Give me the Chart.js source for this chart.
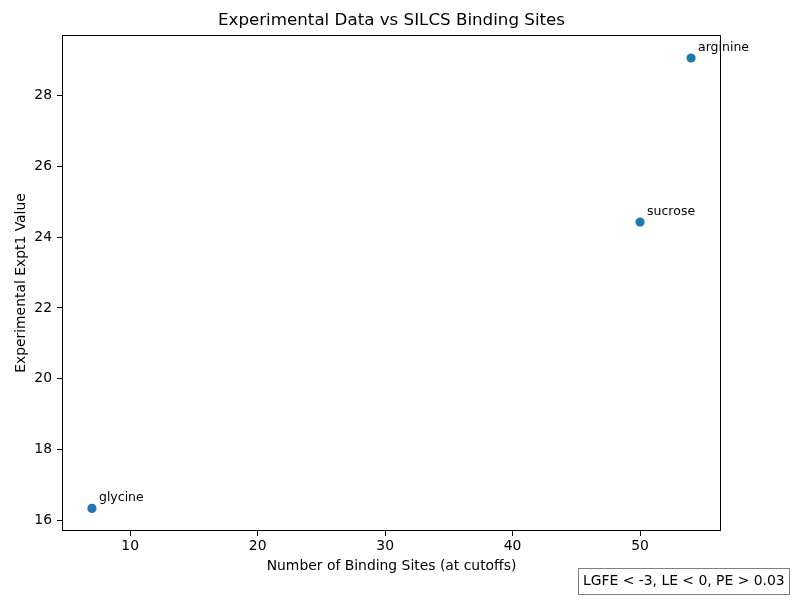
<!DOCTYPE html>
<html>
<head>
<meta charset="utf-8">
<script src="https://cdn.jsdelivr.net/npm/chart.js@4"></script>
<style>
    body { margin: 0; background: #fff; }
    #wrap { width: 800px; height: 600px; }
</style>
</head>
<body>
<div id="wrap"><canvas id="silcsStats" width="800" height="600"></canvas></div>
<script>
//
// Data
var compounds = ['glycine', 'sucrose', 'arginine'];
var binding_sites = [7, 50, 54];
var expt_values = [16.33, 24.43, 29.07];
var x_ticks = [10, 20, 30, 40, 50];
var y_ticks = [16, 18, 20, 22, 24, 26, 28];
var cutoff_note = 'LGFE < -3, LE < 0, PE > 0.03';

var FONT = 'DejaVu Sans';

//
// Frame box + point labels + cutoff note
var extras = {
    id: 'extras',
    afterDraw: function(chart) {
        var ctx = chart.ctx;
        var area = chart.chartArea;
        var x = chart.scales.x, y = chart.scales.y;
        ctx.save();

        // full box like matplotlib spines
        ctx.strokeStyle = '#000';
        ctx.lineWidth = 1;
        ctx.strokeRect(Math.round(area.left) + 0.5, Math.round(area.top) + 0.5,
            Math.round(area.right - area.left) - 1, Math.round(area.bottom - area.top) - 1);

        // labels
        ctx.fillStyle = '#000';
        ctx.font = '12.5px "' + FONT + '"';
        ctx.textAlign = 'left';
        ctx.textBaseline = 'alphabetic';
        compounds.forEach(function(name, i) {
            var px = x.getPixelForValue(binding_sites[i]);
            var py = y.getPixelForValue(expt_values[i]);
            ctx.fillText(name, px + 7, py - 7);
        });

        // note box
        ctx.font = '13.9px "' + FONT + '"';
        ctx.fillStyle = '#fff';
        ctx.fillRect(578, 568, 211, 26);
        ctx.strokeStyle = '#808080';
        ctx.strokeRect(578.5, 568.5, 211, 26);
        ctx.fillStyle = '#000';
        ctx.textBaseline = 'middle';
        ctx.fillText(cutoff_note, 583, 581.5);
        ctx.restore();
    }
};

function fixedTicks(list) {
    return function(scale) {
        scale.ticks = list.map(function(v) { return {value: v}; });
    };
}

var ctx = document.getElementById('silcsStats').getContext('2d');
new Chart(ctx, {
    type: 'scatter',
    data: {
        labels: compounds,
        datasets: [{
            data: binding_sites.map(function(v, i) { return {x: v, y: expt_values[i]}; }),
            backgroundColor: '#1f77b4',
            borderColor: '#1f77b4',
            borderWidth: 0,
            pointRadius: 4.6,
            pointHoverRadius: 4.6
        }]
    },
    options: {
        responsive: false,
        animation: false,
        devicePixelRatio: 1,
        layout: {
            padding: { left: 0, right: 79, top: 0, bottom: 19 }
        },
        plugins: {
            legend: { display: false },
            tooltip: { enabled: false },
            title: {
                display: true,
                fullSize: false,
                text: 'Experimental Data vs SILCS Binding Sites',
                color: '#000',
                font: { family: FONT, size: 16.7, weight: 'normal' },
                padding: { top: 11, bottom: 4 }
            }
        },
        scales: {
            x: {
                type: 'linear',
                min: 4.65,
                max: 56.35,
                afterFit: function(scale) { scale.height = 50; },
                afterBuildTicks: fixedTicks(x_ticks),
                ticks: {
                    color: '#000',
                    padding: 2,
                    maxRotation: 0,
                    font: { family: FONT, size: 13.9 }
                },
                grid: { display: true, drawOnChartArea: false, drawTicks: true, tickLength: 5, color: '#000' },
                border: { display: false },
                title: {
                    display: true,
                    text: 'Number of Binding Sites (at cutoffs)',
                    color: '#000',
                    font: { family: FONT, size: 13.9 },
                    padding: { top: 0, bottom: 6.6 }
                }
            },
            y: {
                type: 'linear',
                min: 15.69,
                max: 29.72,
                afterFit: function(scale) { scale.width = 62; },
                afterBuildTicks: fixedTicks(y_ticks),
                ticks: {
                    color: '#000',
                    padding: 5,
                    font: { family: FONT, size: 13.9 }
                },
                grid: { display: true, drawOnChartArea: false, drawTicks: true, tickLength: 5, color: '#000' },
                border: { display: false },
                title: {
                    display: true,
                    text: 'Experimental Expt1 Value',
                    color: '#000',
                    font: { family: FONT, size: 13.9 },
                    padding: { top: 12.7, bottom: 0 }
                }
            }
        }
    },
    plugins: [extras]
});
</script>
</body>
</html>
